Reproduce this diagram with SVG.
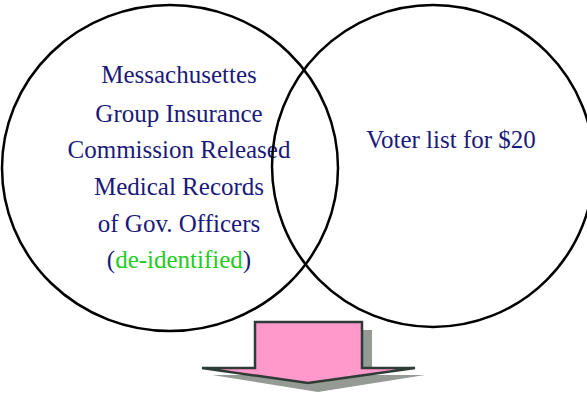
<svg xmlns="http://www.w3.org/2000/svg" width="587" height="394" viewBox="0 0 587 394">
<style>
.c{fill:none;stroke:#000;stroke-width:2.5}
.t{font-family:"Liberation Serif",serif;font-size:25px;fill:#1a1a7a;text-anchor:middle}
.g{fill:#22cc22}
</style>
<rect width="587" height="394" fill="#fff"/>
<g id="left-set">
<ellipse class="c" cx="170" cy="168" rx="168" ry="163"/>
<text class="t" x="179" y="83">Messachusettes</text>
<text class="t" x="179" y="122">Group Insurance</text>
<text class="t" x="179" y="158">Commission Released</text>
<text class="t" x="179" y="195">Medical Records</text>
<text class="t" x="179" y="232">of Gov. Officers</text>
<text class="t" x="179" y="268">(<tspan class="g">de-identified</tspan>)</text>
</g>
<g id="right-set">
<ellipse class="c" cx="433" cy="166" rx="161" ry="161"/>
<text class="t" x="451" y="148">Voter list for $20</text>
</g>
<g id="arrow">
<polygon points="265,330 372,330 372,375 425,375 318,392 212,375 265,375" fill="#959a95"/>
<polygon points="255,322 362,322 362,368 415,368 308,383 202,368 255,368" fill="#ff99cc" stroke="#2f3b35" stroke-width="2.5" stroke-linejoin="miter"/>
</g>
</svg>
